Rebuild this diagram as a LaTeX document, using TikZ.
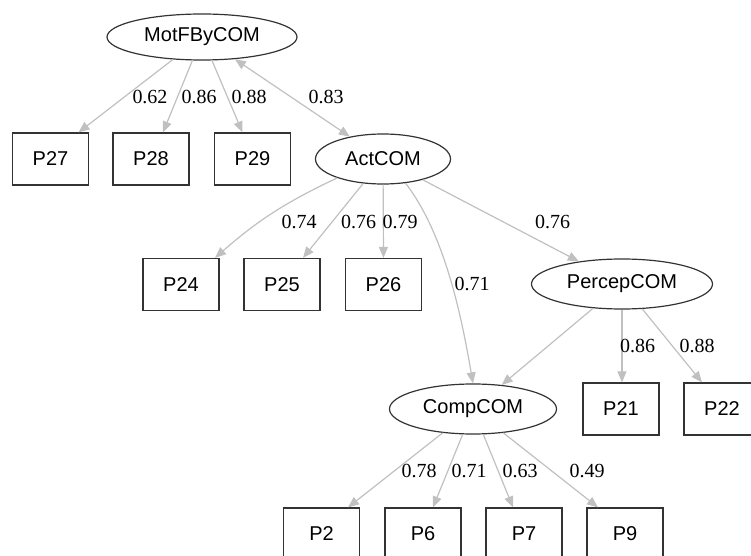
\documentclass[tikz,border=0pt]{standalone}
\usepackage{fontspec}
\setmainfont{Liberation Sans}
\newfontfamily\lblfont{Liberation Serif}
\usetikzlibrary{calc,arrows.meta,shapes.geometric}
\definecolor{edgegray}{HTML}{C0C0C0}
\begin{document}
\begin{tikzpicture}[x=0.5pt,y=-0.5pt,
  every node/.style={font=\fontsize{10}{12}\selectfont},
  lat/.style={ellipse, draw=black!80, line width=0.6pt, inner sep=0pt, minimum height=25pt},
  obs/.style={rectangle, draw=black!80, line width=0.6pt, inner sep=0pt, minimum width=38pt, minimum height=26pt},
  conn/.style={draw=edgegray, line width=0.6pt, -{Triangle[length=5.5pt,width=4.5pt]}, edgegray},
  bconn/.style={draw=edgegray, line width=0.6pt, {Triangle[length=5.5pt,width=4.5pt]}-{Triangle[length=5.5pt,width=4.5pt]}, edgegray},
  lbl/.style={font=\lblfont\fontsize{10}{12}\selectfont, inner sep=0pt}]
\useasboundingbox (0,0) rectangle (751,556);
\clip (0,0) rectangle (751,556);
% latent nodes
\node[lat, minimum width=95pt, minimum height=23pt] (mot) at (202,37) {MotFByCOM};
\node[lat, minimum width=67.5pt] (act) at (383,159) {ActCOM};
\node[lat, minimum width=90.5pt] (perc) at (622,284) {PercepCOM};
\node[lat, minimum width=83.5pt] (comp) at (473,409) {CompCOM};
% observed nodes
\node[obs] (p27) at (50.5,159) {P27};
\node[obs] (p28) at (151,159) {P28};
\node[obs] (p29) at (252.5,159) {P29};
\node[obs] (p24) at (181,284.5) {P24};
\node[obs] (p25) at (282,284.5) {P25};
\node[obs] (p26) at (383.5,284.5) {P26};
\node[obs] (p21) at (621,409) {P21};
\node[obs] (p22) at (722,409) {P22};
\node[obs] (p2) at (321.5,534) {P2};
\node[obs] (p6) at (423,534) {P6};
\node[obs] (p7) at (524,534) {P7};
\node[obs] (p9) at (625,534) {P9};
% edges
\draw[conn] (mot) -- ($(p27.north)+(28,0)$);
\draw[conn] (mot) -- ($(p28.north)+(12,0)$);
\draw[conn] (mot) -- ($(p29.north)+(-10,0)$);
\draw[bconn] (mot) -- (act);
\draw[conn] (act) to[bend right=8] ($(p24.north)+(34,0)$);
\draw[conn] (act) -- ($(p25.north)+(21,0)$);
\draw[conn] (act) -- (p26.north);
\draw[conn] (act.-47) .. controls ($(act.-47)+(40,52)$) and ($(comp.north)+(-11,-64)$) .. (comp.north);
\draw[conn] (act) -- (perc);
\draw[conn] (perc) -- (comp);
\draw[conn] (perc) -- ($(p21.north)+(1,0)$);
\draw[conn] (perc) -- ($(p22.north)+(-20,0)$);
\draw[conn] (comp) -- ($(p2.north)+(26.5,0)$);
\draw[conn] (comp) -- ($(p6.north)+(10,0)$);
\draw[conn] (comp) -- ($(p7.north)+(-11,0)$);
\draw[conn] (comp) -- ($(p9.north)+(-27,0)$);
% labels
\node[lbl] (l1) at (150,97) {0.62};
\node[lbl] (l2) at (199,97) {0.86};
\node[lbl] (l3) at (249,97) {0.88};
\node[lbl] (l4) at (326,97) {0.83};
\node[lbl] (l5) at (299,222) {0.74};
\node[lbl] (l6) at (358.5,222) {0.76};
\node[lbl] (l7) at (400,222) {0.79};
\node[lbl] (l8) at (552.5,222) {0.76};
\node[lbl] (l9) at (472,284) {0.71};
\node[lbl] (l10) at (637.5,346) {0.86};
\node[lbl] (l11) at (697,346) {0.88};
\node[lbl] (l12) at (419,471) {0.78};
\node[lbl] (l13) at (469,471) {0.71};
\node[lbl] (l14) at (520,471) {0.63};
\node[lbl] (l15) at (587,471) {0.49};
\end{tikzpicture}
\end{document}
